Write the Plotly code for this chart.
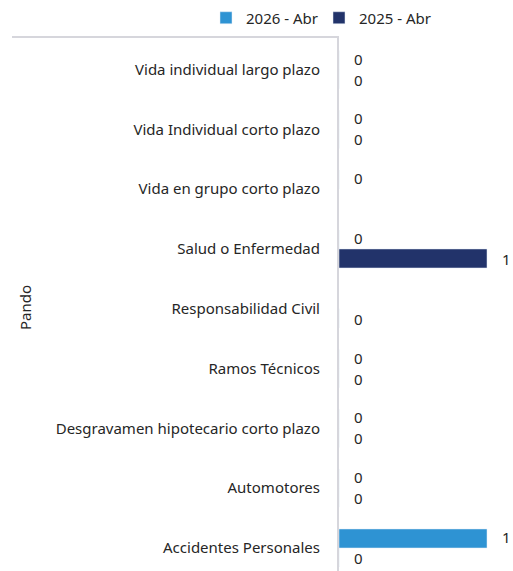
import plotly.graph_objects as go

categories = [
    "Vida individual largo plazo",
    "Vida Individual corto plazo",
    "Vida en grupo corto plazo",
    "Salud o Enfermedad",
    "Responsabilidad Civil",
    "Ramos Técnicos",
    "Desgravamen hipotecario corto plazo",
    "Automotores",
    "Accidentes Personales",
]
series_2026_name = "2026 - Abr"
series_2025_name = "2025 - Abr"
values_2026 = [0, 0, 0, 0, None, 0, 0, 0, 1]
values_2025 = [0, 0, None, 1, 0, 0, 0, 0, 0]
group_title = "Pando"

color_2026 = "#2E93D3"
color_2025 = "#22336A"
text_color = "#262626"
line_color = "#D6D6DC"
FONT = "'Noto Sans', Lato, sans-serif"
FS = 15

W, H = 513, 571
plot_left = 339
top = 37
plot_h = H - top

fig = go.Figure()
fig.add_trace(go.Bar(
    y=categories, x=values_2026, orientation="h", name=series_2026_name,
    marker_color=color_2026, hoverinfo="skip",
))
fig.add_trace(go.Bar(
    y=categories, x=values_2025, orientation="h", name=series_2025_name,
    marker_color=color_2025, hoverinfo="skip",
))

# value labels, placed at each bar's end through the axes
annotations = []
for vals, shift in ((values_2026, 11), (values_2025, -10)):
    for cat, v in zip(categories, vals):
        if v is None:
            continue
        annotations.append(dict(
            x=v, y=cat, xref="x", yref="y", text=str(v), showarrow=False,
            xanchor="left", yanchor="middle", xshift=13, yshift=shift,
            font=dict(size=FS, color=text_color, family=FONT),
        ))
annotations.append(dict(text=group_title, xref="paper", yref="paper", x=25 / W,
                        y=(H - 308) / plot_h,
                        textangle=-90, showarrow=False, font=dict(size=FS, color=text_color),
                        xanchor="center", yanchor="middle"))

fig.update_layout(
    width=W, height=H,
    margin=dict(l=0, r=0, t=top, b=0, autoexpand=False),
    paper_bgcolor="white", plot_bgcolor="white",
    barmode="group", bargap=0.365, bargroupgap=0,
    font=dict(family=FONT, size=FS, color=text_color),
    showlegend=True,
    legend=dict(orientation="h", x=206 / W, xanchor="left",
                y=1 + (top - 18) / plot_h, yanchor="middle",
                font=dict(size=FS, color=text_color), itemwidth=30, entrywidth=68,
                traceorder="normal", bgcolor="rgba(0,0,0,0)"),
    xaxis=dict(domain=[plot_left / W, 1], range=[0, (W - plot_left) / 148],
               showgrid=False, zeroline=False, showticklabels=False, showline=False),
    yaxis=dict(autorange=False, range=[8.385, -0.545], showgrid=False,
               showline=True, linecolor=line_color, linewidth=2,
               ticks="", ticklabelstandoff=14, tickfont=dict(size=FS, color=text_color)),
    annotations=annotations,
    shapes=[dict(type="line", xref="paper", yref="paper", x0=12 / W, x1=plot_left / W,
                 y0=1, y1=1, line=dict(color=line_color, width=2))],
)

fig.write_html(
    "out.html",
    config={"displayModeBar": False},
    post_script="document.body.style.margin='0';document.body.style.overflow='hidden';",
)
